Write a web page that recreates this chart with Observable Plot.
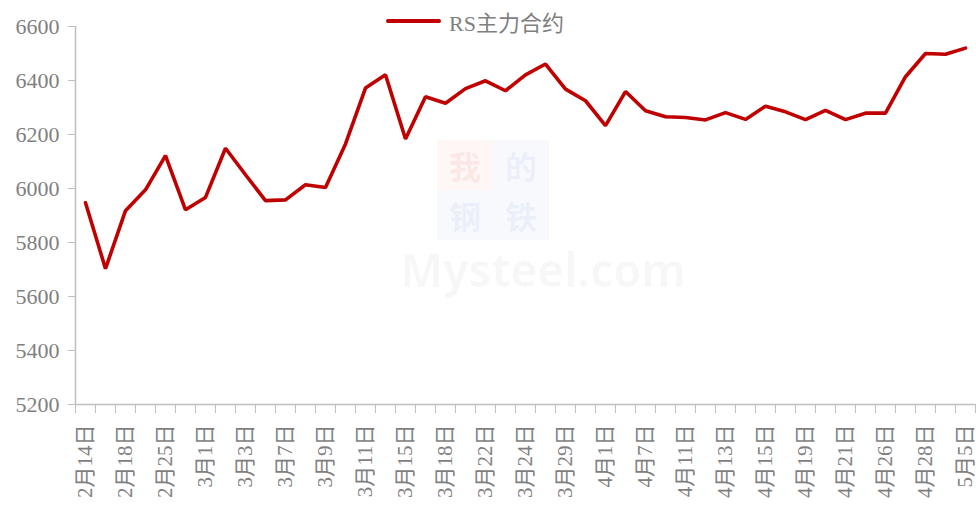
<!DOCTYPE html>
<html>
<head>
<meta charset="utf-8">
<script src="https://cdn.jsdelivr.net/npm/d3@7"></script>
<script src="https://cdn.jsdelivr.net/npm/@observablehq/plot@0.6"></script>
<style>
  html, body { margin: 0; padding: 0; background: #fff; }
  #wrap { position: relative; width: 976px; height: 505px; overflow: hidden; }
  #legend { position: absolute; left: 386px; top: 6px; height: 30px; display: flex; align-items: center;
            font-family: "Liberation Serif", "Noto Sans CJK SC", serif; font-size: 22px; color: #7f7f7f; }
  #legend .swatch { width: 55px; height: 4px; background: #c00000; margin-right: 8px; border-radius: 2px; }
  .wm { position: absolute; pointer-events: none; font-family: "Noto Sans CJK SC", sans-serif; font-weight: 700; }
  .sq { position: absolute; width: 56px; height: 50px; font-size: 32px; line-height: 50px; text-align: center; overflow: hidden; }
</style>
</head>
<body>
<div id="wrap">
  <div id="chart"></div>
  <div id="legend"><div class="swatch"></div><span>RS主力合约</span></div>
  <div class="wm sq" style="left:437px;top:140px;background:rgba(240,90,60,0.05);color:rgba(230,80,60,0.09);">我</div>
  <div class="wm sq" style="left:493px;top:140px;background:rgba(60,90,200,0.04);color:rgba(60,90,200,0.07);">的</div>
  <div class="wm sq" style="left:437px;top:190px;background:rgba(60,90,200,0.04);color:rgba(60,90,200,0.07);">钢</div>
  <div class="wm sq" style="left:493px;top:190px;background:rgba(60,90,200,0.04);color:rgba(60,90,200,0.07);">铁</div>
  <div class="wm" style="left:400px;top:246px;font-family:'Open Sans',sans-serif;font-size:46px;line-height:46px;color:rgba(0,0,0,0.03);letter-spacing:-0.5px;">Mysteel.com</div>
</div>
<script>
const dates = ["2月14日","2月16日","2月18日","2月22日","2月25日","2月28日","3月1日","3月2日","3月3日","3月4日",
  "3月7日","3月8日","3月9日","3月10日","3月11日","3月14日","3月15日","3月16日","3月18日","3月21日",
  "3月22日","3月23日","3月24日","3月28日","3月29日","3月31日","4月1日","4月6日","4月7日","4月8日",
  "4月11日","4月12日","4月13日","4月14日","4月15日","4月18日","4月19日","4月20日","4月21日","4月25日",
  "4月26日","4月27日","4月28日","4月29日","5月5日"];
const rsMain = [5947,5703,5918,5995,6122,5921,5967,6149,6051,5955,
  5958,6014,6004,6165,6372,6421,6183,6340,6316,6370,
  6399,6362,6421,6461,6368,6325,6233,6359,6288,6266,
  6263,6254,6281,6256,6305,6284,6255,6289,6255,6279,
  6279,6414,6500,6497,6520];
const yTicks = [5200,5400,5600,5800,6000,6200,6400,6600];
const seriesName = "RS主力合约";

const n = dates.length;
const data = rsMain.map((v, i) => ({i, date: dates[i], value: v}));
const labelIdx = d3.range(0, n, 2);
const tickIdx = d3.range(0, n + 1).map(k => k - 0.5);

const axisColor = "#bfbfbf";
const textColor = "#7f7f7f";
const font = "'Liberation Serif', 'Noto Sans CJK SC', serif";

const chart = Plot.plot({
  width: 976,
  height: 505,
  marginLeft: 75,
  marginRight: 1,
  marginTop: 26,
  marginBottom: 101,
  style: {fontFamily: font, background: "transparent"},
  x: {type: "linear", domain: [-0.5, n - 0.5]},
  y: {domain: [5200, 6600]},
  marks: [
    Plot.axisY({ticks: yTicks, tickSize: 7, tickPadding: 9, stroke: axisColor, fill: textColor,
      fontSize: 22, fontFamily: font, tickFormat: d => String(d), label: null}),
    Plot.axisX({ticks: tickIdx, tickSize: 9, stroke: axisColor, tickFormat: () => "", label: null}),
    Plot.axisX({ticks: labelIdx, tickSize: 0, tickPadding: 20, tickRotate: -90, fill: textColor,
      fontSize: 21, fontFamily: font, tickFormat: i => dates[i], label: null}),
    Plot.ruleX([-0.5], {stroke: axisColor, strokeWidth: 1.5}),
    Plot.ruleY([5200], {stroke: axisColor, strokeWidth: 1.5}),
    Plot.line(data, {x: "i", y: "value", stroke: "#c00000", strokeWidth: 3.6, strokeLinejoin: "miter", curve: "linear"})
  ]
});
document.getElementById("chart").appendChild(chart);
</script>
</body>
</html>
